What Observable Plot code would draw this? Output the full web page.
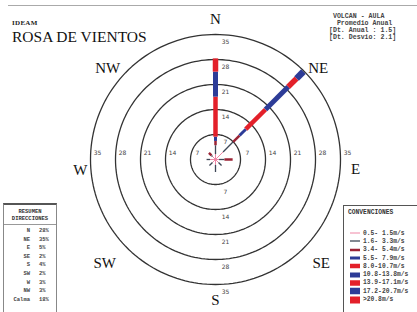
<!DOCTYPE html>
<html><head><meta charset="utf-8">
<script src="https://cdn.jsdelivr.net/npm/d3@7"></script>
<script src="https://cdn.jsdelivr.net/npm/@observablehq/plot@0.6"></script>
<style>
html,body{margin:0;padding:0;background:#fff;}
#wrap{position:relative;width:417px;height:312px;overflow:hidden;background:#fff;}
.abs{position:absolute;white-space:pre;color:#222;}
svg{display:block;}
</style></head><body><div id="wrap"></div>
<script>
// ---- data ----
const directions = ["N","NE","E","SE","S","SW","W","NW"];
const dirAngles = [0,45,90,135,180,225,270,315];
const speedClasses = ["0.5- 1.5m/s","1.6- 3.3m/s","3.4- 5.4m/s","5.5- 7.9m/s","8.0-10.7m/s","10.8-13.8m/s","13.9-17.1m/s","17.2-20.7m/s",">20.8m/s"];
// frequency (%) per speed class, by direction (N,NE,E,SE,S,SW,W,NW)
const c1 = [1.5, 3.0, 1.0, 1.2, 1.5, 1.2, 1.5, 1.2];
const c2 = [2.5, 4.0, 1.5, 1.2, 2.0, 1.2, 1.0, 0.4];
const c3 = [1.2, 2.5, 2.3, 0, 0, 0, 0, 1.0];
const c4 = [1.2, 2.5, 0, 0, 0, 0, 0, 0];
const c5 = [11.2, 7.8, 0, 0, 0, 0, 0, 0];
const c6 = [7.0, 9.0, 0, 0, 0, 0, 0, 0];
const c7 = [3.7, 3.3, 0, 0, 0, 0, 0, 0];
const c8 = [0, 2.7, 0, 0, 0, 0, 0, 0];
const c9 = [0, 0, 0, 0, 0, 0, 0, 0];
const ringValues = [7, 14, 21, 28, 35];
const summaryLabels = ["N","NE","E","SE","S","SW","W","NW","Calma"];
const summaryValues = ["28%","35%","5%","2%","4%","2%","3%","3%","18%"];
const infoLines = [" VOLCAN - AULA", "  Promedio Anual", "[Dt. Anual : 1.5]", "[Dt. Desvio: 2.1]"];
const titleText = "ROSA DE VIENTOS";
const topTag = "IDEAM";

// ---- styles ----
const classColors = ["#ef87a6","#3e4756","#9b2335","#2d3c97","#e3202a","#2d3c97","#e3202a","#2d3c97","#e3202a"];
const classWidths = [1, 1.3, 2.5, 3, 4.5, 5, 5.5, 6.5, 7];
const W = 417, H = 312, cx = 215, cy = 159, k = 25 / 7;
const labelR = 39.5;
const labelNudge = [[0,1],[3,8],[-1,10],[6,4],[0,0],[-11,4],[6,11],[-8,8]];

const series = [c1,c2,c3,c4,c5,c6,c7,c8,c9];
const rad = a => a * Math.PI / 180;
const segs = [];
directions.forEach((d, i) => {
  let r = 0; const a = rad(dirAngles[i]);
  series.forEach((s, j) => {
    const v = s[i];
    if (v > 0) {
      segs.push({dir: d, cls: j, x1: r*Math.sin(a), y1: r*Math.cos(a), x2: (r+v)*Math.sin(a), y2: (r+v)*Math.cos(a)});
      r += v;
    }
  });
});
const ringPts = ringValues.flatMap(v => d3.range(0, 361, 2).map(t => ({ring: v, x: v*Math.sin(rad(t)), y: v*Math.cos(rad(t))})));

const compassMarks = directions.map((d, i) => Plot.text([d], {
  x: () => labelR*Math.sin(rad(dirAngles[i])),
  y: () => labelR*Math.cos(rad(dirAngles[i])),
  text: t => t, dx: labelNudge[i][0], dy: labelNudge[i][1],
  fontSize: 15, fontFamily: "Liberation Serif", fill: "#111", textAnchor: "middle"
}));

const tickFont = {fontSize: 6, fontFamily: "DejaVu Sans", fill: "#444", text: d => String(d)};

const chart = Plot.plot({
  width: W, height: H, margin: 0,
  style: {background: "transparent"},
  x: {domain: [-cx/k, (W-cx)/k], range: [0, W], axis: null},
  y: {domain: [-(H-cy)/k, cy/k], range: [H, 0], axis: null},
  marks: [
    Plot.line(ringPts, {x: "x", y: "y", z: "ring", stroke: "#333", strokeWidth: 1.3}),
    Plot.text(ringValues, {...tickFont, x: () => 0, y: d => d, dx: 10, dy: 8}),
    Plot.text(ringValues, {...tickFont, x: () => 0, y: d => -d, dx: 10, dy: 8}),
    Plot.text(ringValues, {...tickFont, x: d => d, y: () => 0, dx: 7, dy: -6}),
    Plot.text(ringValues, {...tickFont, x: d => -d, y: () => 0, dx: 7, dy: -6}),
    Plot.link(segs, {x1: "x1", y1: "y1", x2: "x2", y2: "y2",
      stroke: d => classColors[d.cls], strokeWidth: d => classWidths[d.cls], strokeLinecap: "butt"}),
    ...compassMarks
  ]
});

const wrap = document.getElementById("wrap");
wrap.appendChild(chart);
chart.style.position = "absolute"; chart.style.left = "0"; chart.style.top = "0";

function addDiv(html, css) {
  const el = document.createElement("div");
  el.className = "abs"; el.innerHTML = html; el.style.cssText += css;
  wrap.appendChild(el); return el;
}
// frame line
addDiv("", "left:8px;top:5px;width:409px;height:0;border-top:1px solid #aaa;");
addDiv(topTag, "left:12px;top:19px;font:bold 7px 'Liberation Serif';letter-spacing:0.3px;");
addDiv(titleText, "left:12px;top:29px;font:15.5px/15px 'Liberation Serif';color:#111;");
addDiv(infoLines.join("\n"), "left:329px;top:13px;font:bold 6.6px/7px 'Liberation Mono';color:#444;");

// summary table
const tbl = addDiv("", "left:3px;top:203px;width:52px;height:115px;border-top:2px solid #555;border-left:1px solid #888;border-right:1px solid #888;");
let th = `<div style="font:bold 5.5px/7px 'Liberation Mono';text-align:center;margin-top:3px;color:#333;">RESUMEN<br>DIRECCIONES</div><div style="height:2px;border-top:1px solid #999;margin-top:2px"></div>`;
th += summaryLabels.map((l, i) => `<div style="font:bold 5.5px/8.6px 'Liberation Mono';display:flex;color:#444;"><span style="width:26px;text-align:right;">${l}</span><span style="width:9px;"></span><span>${summaryValues[i]}</span></div>`).join("");
tbl.innerHTML = th;
tbl.style.whiteSpace = "normal";

// legend
const leg = addDiv("", "left:343px;top:205px;width:80px;height:115px;border:1px solid #555;");
let lh = `<div style="font:bold 6.3px/7px 'Liberation Mono';margin:3px 0 0 4px;color:#333;">CONVENCIONES</div><div style="height:13px"></div>`;
lh += speedClasses.map((s, i) => `<div style="display:flex;align-items:center;height:8.3px;"><svg width="16" height="8" style="margin-left:3px"><line x1="3" x2="13" y1="4" y2="4" stroke="${classColors[i]}" stroke-width="${Math.min(classWidths[i],7)}"/></svg><span style="font:bold 6.3px 'Liberation Mono';color:#444;">${s}</span></div>`).join("");
leg.innerHTML = lh;
leg.style.whiteSpace = "normal";
</script></body></html>
